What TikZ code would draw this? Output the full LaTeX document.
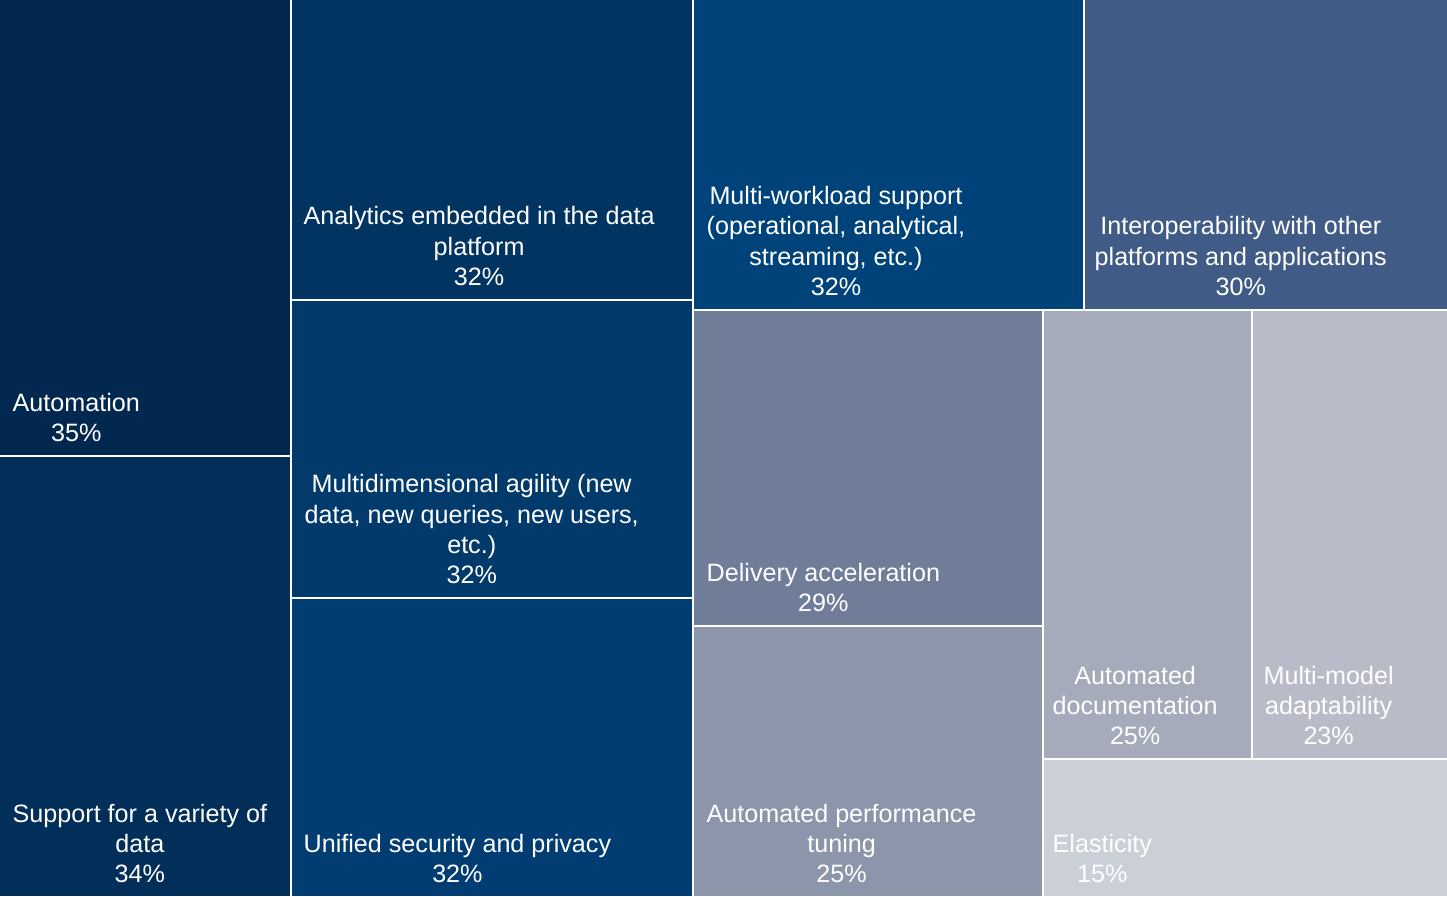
\documentclass[tikz,border=0pt]{standalone}
\usepackage{fontspec}
\setmainfont{Liberation Sans}
\definecolor{cAuto}{HTML}{03284F}
\definecolor{cSupp}{HTML}{022E5A}
\definecolor{cAnal}{HTML}{023462}
\definecolor{cMdim}{HTML}{023A6B}
\definecolor{cSecu}{HTML}{013D72}
\definecolor{cWork}{HTML}{00437A}
\definecolor{cIntr}{HTML}{405B85}
\definecolor{cDlvr}{HTML}{6F7D99}
\definecolor{cPerf}{HTML}{8C96AB}
\definecolor{cDocu}{HTML}{A5ABBA}
\definecolor{cMmod}{HTML}{B9BCC8}
\definecolor{cElas}{HTML}{CBCFD8}
\begin{document}
\begin{tikzpicture}[x=0.01cm,y=-0.01cm,
    lbl/.style={anchor=south west,inner sep=0pt,align=center,text=white,
      font=\fontsize{7.15pt}{8.54pt}\selectfont}]
      \fill[white] (0,0) rectangle (1447,896);
      \useasboundingbox (0,0) rectangle (1447,896);
      % cells
      \fill[cAuto] (0,0) rectangle (290,455);
      \fill[cSupp] (0,457) rectangle (290,896);
      \fill[cAnal] (292,0) rectangle (692,299);
      \fill[cMdim] (292,301) rectangle (692,597);
      \fill[cSecu] (292,599) rectangle (692,896);
      \fill[cWork] (694,0) rectangle (1083,309);
      \fill[cIntr] (1085,0) rectangle (1447,309);
      \fill[cDlvr] (694,311) rectangle (1042,625);
      \fill[cPerf] (694,627) rectangle (1042,896);
      \fill[cDocu] (1044,311) rectangle (1251,758);
      \fill[cMmod] (1253,311) rectangle (1447,758);
      \fill[cElas] (1044,760) rectangle (1447,896);
      % labels
      \node[lbl] (auto) at (12,442) {Automation\\35\%};
      \node[lbl] (supp) at (12,883) {Support for a variety of\\data\\34\%};
      \node[lbl] (anal) at (303,286) {Analytics embedded in the data\\platform\\32\%};
      \node[lbl] (mdim) at (304,584) {Multidimensional agility (new\\data, new queries, new users,\\etc.)\\32\%};
      \node[lbl] (secu) at (303,883) {Unified security and privacy\\32\%};
      \node[lbl] (work) at (706,296) {Multi-workload support\\(operational, analytical,\\streaming, etc.)\\32\%};
      \node[lbl] (intr) at (1094,296) {Interoperability with other\\platforms and applications\\30\%};
      \node[lbl] (dlvr) at (706,612) {Delivery acceleration\\29\%};
      \node[lbl] (perf) at (706,883) {Automated performance\\tuning\\25\%};
      \node[lbl] (docu) at (1052,745) {Automated\\documentation\\25\%};
      \node[lbl] (mmod) at (1263,745) {Multi-model\\adaptability\\23\%};
      \node[lbl] (elas) at (1052,883) {Elasticity\\15\%};
\end{tikzpicture}
\end{document}
